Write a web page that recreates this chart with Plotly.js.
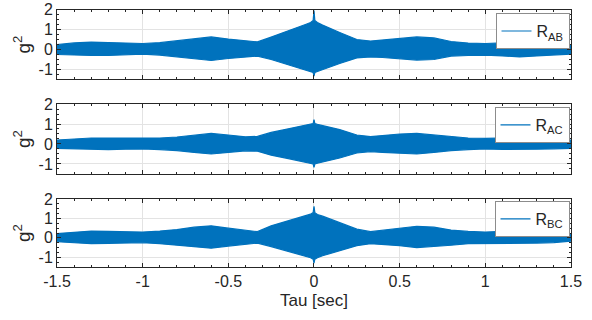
<!DOCTYPE html>
<html><head><meta charset="utf-8">
<script src="https://cdn.plot.ly/plotly-3.0.1.min.js"></script>
<style>html,body{margin:0;padding:0;background:#fff}#c{width:592px;height:320px}</style>
</head><body><div id="c"></div>
<script>
// Envelope (upper / lower edge) of the correlation functions
const tau = [-1.5,-1.4,-1.3,-1.2,-1.1,-1.0,-0.9,-0.8,-0.7,-0.6,-0.5,-0.4,-0.33,-0.25,-0.15,-0.05,-0.02,-0.005,0,0.005,0.02,0.05,0.15,0.25,0.33,0.4,0.5,0.6,0.7,0.8,0.9,1.0,1.1,1.2,1.3,1.4,1.5];

const abUpper = [0.25,0.33,0.37,0.35,0.32,0.30,0.34,0.43,0.55,0.63,0.52,0.43,0.38,0.62,0.92,1.25,1.35,1.45,1.95,1.45,1.35,1.22,0.85,0.50,0.42,0.48,0.55,0.63,0.58,0.40,0.32,0.30,0.33,0.38,0.35,0.30,0.25];
const abLower = [-0.25,-0.28,-0.30,-0.30,-0.26,-0.23,-0.28,-0.37,-0.48,-0.55,-0.45,-0.36,-0.33,-0.50,-0.75,-1.00,-1.10,-1.15,-1.33,-1.15,-1.10,-1.00,-0.70,-0.42,-0.37,-0.40,-0.45,-0.53,-0.50,-0.33,-0.30,-0.28,-0.32,-0.37,-0.32,-0.28,-0.23];

const acUpper = [0.20,0.25,0.30,0.30,0.29,0.28,0.30,0.35,0.45,0.53,0.45,0.36,0.38,0.58,0.76,0.92,0.98,1.02,1.22,1.02,0.98,0.92,0.72,0.45,0.37,0.42,0.50,0.53,0.45,0.35,0.30,0.28,0.30,0.32,0.28,0.25,0.20];
const acLower = [-0.22,-0.25,-0.28,-0.28,-0.26,-0.25,-0.28,-0.33,-0.42,-0.50,-0.42,-0.34,-0.36,-0.56,-0.73,-0.90,-0.96,-1.00,-1.17,-1.00,-0.96,-0.90,-0.70,-0.45,-0.38,-0.42,-0.47,-0.50,-0.42,-0.33,-0.28,-0.25,-0.27,-0.28,-0.26,-0.24,-0.22];

const bcUpper = [0.22,0.30,0.35,0.33,0.31,0.30,0.35,0.43,0.55,0.62,0.50,0.38,0.32,0.62,0.88,1.15,1.22,1.30,1.62,1.30,1.20,1.12,0.78,0.45,0.32,0.40,0.50,0.60,0.55,0.40,0.33,0.30,0.33,0.35,0.32,0.28,0.17];
const bcLower = [-0.20,-0.26,-0.30,-0.28,-0.26,-0.25,-0.30,-0.38,-0.48,-0.53,-0.42,-0.32,-0.27,-0.45,-0.70,-0.95,-1.02,-1.10,-1.30,-1.10,-1.02,-0.92,-0.65,-0.40,-0.30,-0.33,-0.40,-0.50,-0.45,-0.38,-0.30,-0.30,-0.30,-0.30,-0.27,-0.24,-0.17];

const names = ['R<sub>AB</sub>','R<sub>AC</sub>','R<sub>BC</sub>'];
const xTickVals = [-1.5,-1,-0.5,0,0.5,1,1.5];
const xTickText = ['-1.5','-1','-0.5','0','0.5','1','1.5'];
const yTickVals = [-1,0,1,2];
const yTickText = ['-1','0','1','2'];

const blue = '#0072BD';
const series = [[abUpper,abLower],[acUpper,acLower],[bcUpper,bcLower]];
const traces = [];
series.forEach((s,i)=>{
  const ax = i===0?'':String(i+1);
  const leg = i===0?'legend':'legend'+(i+1);
  traces.push({x:tau,y:s[0],xaxis:'x'+ax,yaxis:'y'+ax,mode:'lines',line:{color:blue,width:1.2},name:names[i],legend:leg,showlegend:true});
  traces.push({x:tau,y:s[1],xaxis:'x'+ax,yaxis:'y'+ax,mode:'lines',line:{color:blue,width:1.2},fill:'tonexty',fillcolor:blue,showlegend:false,legend:leg});
});

const txt = '#262626';
const font = {family:'"Liberation Sans", Arial, sans-serif',size:16,color:txt};
const domains = [[0.7516,0.9703],[0.4563,0.675],[0.1656,0.378]];
const layout = {
  width:592,height:320,margin:{l:0,r:0,t:0,b:0},
  paper_bgcolor:'#fff',plot_bgcolor:'#fff',font:font,
};
function xax(i){
  return {domain:[0.0963,0.9645],range:[-1.5,1.5],anchor:i===0?'y':'y'+(i+1),
    tickvals:xTickVals,ticktext:xTickText,showticklabels:i===2,ticks:'inside',ticklen:4,
    tickcolor:txt,linecolor:txt,linewidth:1,mirror:'ticks',showline:true,
    showgrid:true,gridcolor:'#e3e3e3',gridwidth:1,zeroline:false,automargin:false,
    minor:{dtick:0.1,tick0:0,ticks:'inside',ticklen:2,tickcolor:txt,showgrid:false},
    tickfont:{size:16,color:txt},
    title: i===2?{text:'Tau [sec]',font:{size:17,color:txt},standoff:4}:undefined};
}
function yax(i){
  return {domain:domains[i],range:[-1.5,2],anchor:i===0?'x':'x'+(i+1),
    tickvals:yTickVals,ticktext:yTickText,ticks:'inside',ticklen:4,
    tickcolor:txt,linecolor:txt,linewidth:1,mirror:'ticks',showline:true,
    showgrid:true,gridcolor:'#e3e3e3',gridwidth:1,zeroline:false,automargin:false,
    minor:{dtick:0.25,tick0:0,ticks:'inside',ticklen:2,tickcolor:txt,showgrid:false},
    tickfont:{size:16,color:txt},
    title:{text:'g<sup>2</sup>',font:{size:19,color:txt},standoff:2}};
}
for(let i=0;i<3;i++){
  const k = i===0?'':String(i+1);
  layout['xaxis'+k]=xax(i);
  layout['yaxis'+k]=yax(i);
}
const legTops=[0.959,0.666,0.372];
['legend','legend2','legend3'].forEach((l,i)=>{
  layout[l]={x:0.962,y:legTops[i],xanchor:'right',yanchor:'top',bgcolor:'#fff',bordercolor:'#8c8c8c',borderwidth:1,
    font:{size:16,color:txt},tracegroupgap:0,itemwidth:30};
});
Plotly.newPlot('c',traces,layout,{staticPlot:true});
</script></body></html>
